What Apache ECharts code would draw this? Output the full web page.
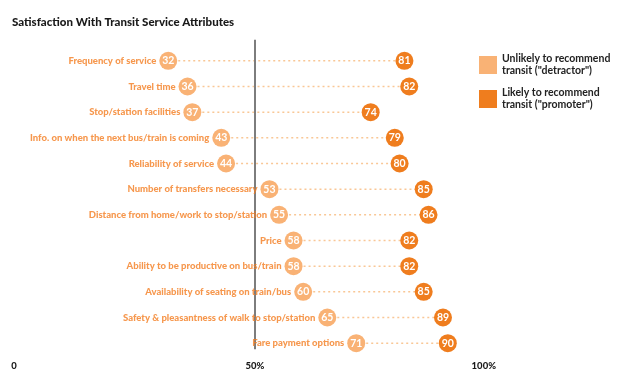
<!DOCTYPE html>
<html>
<head>
<meta charset="utf-8">
<script src="https://cdn.jsdelivr.net/npm/echarts@6/dist/echarts.min.js"></script>
<style>
  html, body { margin: 0; padding: 0; background: #fff; }
  #chart { width: 620px; height: 375px; }
</style>
</head>
<body>
<div id="chart"></div>
<script>
var attributes = [
	'Frequency of service',
	'Travel time',
	'Stop/station facilities',
	'Info. on when the next bus/train is coming',
	'Reliability of service',
	'Number of transfers necessary',
	'Distance from home/work to stop/station',
	'Price',
	'Ability to be productive on bus/train',
	'Availability of seating on train/bus',
	'Safety & pleasantness of walk to stop/station',
	'Fare payment options'
];
var detractorValues = [32, 36, 37, 43, 44, 53, 55, 58, 58, 60, 65, 71];
var promoterValues  = [81, 82, 74, 79, 80, 85, 86, 82, 82, 85, 89, 90];
var axisTicks = [0, 50, 100];

var detractorName = 'Unlikely to recommend\ntransit ("detractor")';
var promoterName = 'Likely to recommend\ntransit ("promoter")';

function drawChart() {
	var chart = echarts.init(document.getElementById('chart'));
	var font = 'Lato, "Open Sans", sans-serif';

	var pairData = attributes.map(function (name, i) {
		return [detractorValues[i], promoterValues[i], i];
	});

	var option = {
		animation: false,
		textStyle: { fontFamily: font },
		title: {
			text: 'Satisfaction With Transit Service Attributes',
			left: 7,
			top: 11,
			textStyle: { fontSize: 11.5, fontWeight: 900, color: '#1a1a1a', fontFamily: font }
		},
		legend: {
			data: [detractorName, promoterName],
			orient: 'vertical',
			left: 474,
			top: 48,
			itemWidth: 18,
			itemHeight: 18,
			itemGap: 10,
			icon: 'rect',
			textStyle: { fontSize: 10.5, fontWeight: 'bold', color: '#222', lineHeight: 12, fontFamily: font }
		},
		grid: { left: 14, right: 124, top: 48, bottom: 19 },
		xAxis: {
			type: 'value',
			min: axisTicks[0],
			max: axisTicks[axisTicks.length - 1],
			interval: 50,
			axisLine: { show: false },
			axisTick: { show: false },
			splitLine: { show: false },
			axisLabel: {
				margin: 5,
				fontSize: 9.5,
				fontWeight: 900,
				color: '#1a1a1a',
				alignMaxLabel: 'right',
				formatter: function (v) { return v === 0 ? '0' : v + '%'; }
			}
		},
		yAxis: {
			type: 'category',
			data: attributes,
			inverse: true,
			axisLine: { show: false },
			axisTick: { show: false },
			axisLabel: { show: false },
			splitLine: { show: false }
		},
		series: [
			{
				// dotted connector between the two dots
				type: 'custom',
				silent: true,
				z: 1,
				data: pairData,
				encode: { x: [0, 1], y: 2 },
				renderItem: function (params, api) {
					var a = api.coord([api.value(0), api.value(2)]);
					var b = api.coord([api.value(1), api.value(2)]);
					return {
						type: 'line',
						shape: { x1: a[0], y1: a[1], x2: b[0], y2: b[1] },
						style: { stroke: '#f9c796', lineWidth: 1.5, lineDash: [2, 3] }
					};
				}
			},
			{
				// category names left of the detractor dot
				type: 'scatter',
				silent: true,
				z: 2,
				symbolSize: 18,
				itemStyle: { color: 'rgba(0,0,0,0)' },
				data: detractorValues.map(function (v, i) { return [v, i]; }),
				label: {
					show: true,
					position: 'left',
					distance: 3,
					fontSize: 9.5,
					fontWeight: 900,
					color: '#f47d20',
					fontFamily: font,
					formatter: function (p) { return attributes[p.data[1]]; }
				}
			},
			{
				// 50% reference line
				type: 'custom',
				silent: true,
				z: 2,
				data: [[50]],
				encode: { x: 0 },
				renderItem: function (params, api) {
					var top = api.coord([api.value(0), 0]);
					var bottom = api.coord([api.value(0), attributes.length - 1]);
					return {
						type: 'line',
						shape: { x1: top[0], y1: top[1] - 21, x2: bottom[0], y2: bottom[1] + 6 },
						style: { stroke: '#7d7d7d', lineWidth: 2 }
					};
				}
			},
			{
				name: detractorName,
				type: 'scatter',
				z: 3,
				symbolSize: 18,
				itemStyle: { color: '#f9b275', opacity: 1 },
				data: detractorValues.map(function (v, i) { return [v, i]; }),
				label: {
					show: true,
					position: 'inside',
					fontSize: 10.5,
					fontWeight: 'bold',
					color: '#fff',
					fontFamily: font,
					formatter: function (p) { return p.data[0]; }
				}
			},
			{
				name: promoterName,
				type: 'scatter',
				z: 3,
				symbolSize: 18,
				itemStyle: { color: '#ef7d1e', opacity: 1 },
				data: promoterValues.map(function (v, i) { return [v, i]; }),
				label: {
					show: true,
					position: 'inside',
					fontSize: 10.5,
					fontWeight: 'bold',
					color: '#fff',
					fontFamily: font,
					formatter: function (p) { return p.data[0]; }
				}
			}
		]
	};
	chart.setOption(option);
}

drawChart();
</script>
</body>
</html>
